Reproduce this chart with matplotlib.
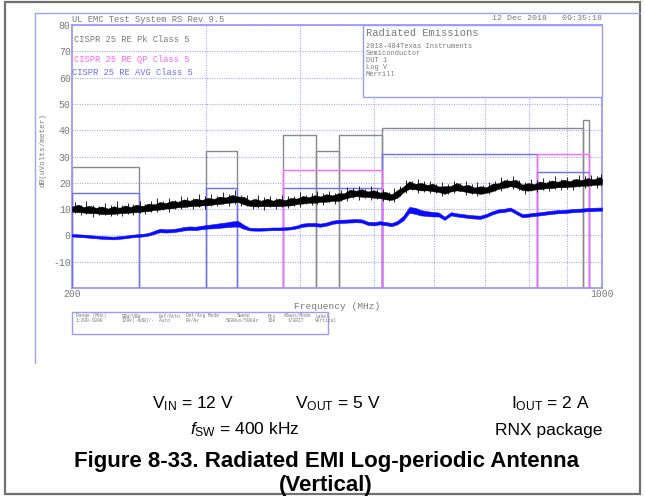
import matplotlib
matplotlib.use("Agg")
import matplotlib.pyplot as plt
from matplotlib.patches import Rectangle
from matplotlib.lines import Line2D

plt.rcParams["mathtext.fontset"] = "custom"
plt.rcParams["mathtext.rm"] = "Liberation Sans"
plt.rcParams["mathtext.it"] = "Liberation Sans:italic"
plt.rcParams["mathtext.bf"] = "Liberation Sans:bold"

# ---------------- data ----------------
freq_mhz = [200, 204, 207, 211, 215, 219, 223, 227, 231, 235, 239, 243, 248, 252, 257, 261,
            266, 271, 276, 281, 286, 291, 297, 302, 308, 313, 319, 325, 331, 337, 343, 349,
            355, 362, 368, 375, 382, 389, 396, 403, 410, 418, 425, 433, 441, 449, 457, 465,
            474, 482, 491, 500, 509, 518, 528, 537, 547, 557, 567, 577, 588, 598, 609, 620,
            632, 643, 655, 667, 679, 691, 704, 717, 730, 743, 757, 770, 785, 799, 814, 828,
            843, 859, 874, 890, 907, 923, 940, 957, 975, 993, 1000]

# peak detector trace: upper / lower edge of the noise band (dBuV/m)
peak_hi = [11.0, 11.7, 10.8, 11.3, 10.5, 11.0, 10.2, 11.1, 10.5, 11.4, 10.8, 11.7, 11.2, 12.1, 11.8, 12.7,
           12.3, 13.2, 12.8, 13.7, 13.2, 14.0, 13.5, 14.3, 13.9, 14.8, 14.4, 15.4, 14.8, 14.7, 13.3, 13.9,
           13.2, 14.0, 13.2, 14.0, 13.4, 14.3, 14.0, 15.0, 14.5, 15.3, 14.8, 15.7, 15.2, 16.0, 16.0, 17.4,
           17.0, 17.6, 16.7, 17.2, 16.3, 16.6, 15.6, 17.2, 18.5, 20.6, 19.6, 20.0, 19.2, 19.7, 18.6, 18.7,
           18.8, 20.0, 18.9, 19.2, 18.2, 18.7, 18.3, 19.7, 19.8, 21.0, 20.8, 21.2, 19.3, 19.9, 19.5, 20.5,
           20.0, 20.9, 20.4, 21.2, 20.6, 21.5, 21.0, 21.8, 21.3, 22.2, 21.5]
peak_lo = [9.0, 8.8, 8.7, 8.4, 8.4, 8.1, 8.1, 8.2, 8.4, 8.5, 8.7, 8.8, 9.1, 9.2, 9.7, 9.8,
           10.2, 10.3, 10.7, 10.8, 11.1, 11.1, 11.4, 11.4, 11.8, 11.9, 12.3, 12.5, 12.7, 11.8, 11.2, 11.0,
           11.1, 11.1, 11.1, 11.1, 11.3, 11.4, 11.9, 12.1, 12.4, 12.4, 12.7, 12.8, 13.1, 13.1, 13.9, 14.5,
           14.9, 14.7, 14.6, 14.3, 14.2, 13.7, 13.5, 14.3, 16.4, 17.7, 17.5, 17.1, 17.1, 16.8, 16.5, 15.8,
           16.7, 17.1, 16.8, 16.3, 16.1, 15.8, 16.2, 16.8, 17.7, 18.1, 18.7, 18.3, 17.2, 17.0, 17.4, 17.6,
           17.9, 18.0, 18.3, 18.3, 18.5, 18.6, 18.9, 18.9, 19.2, 19.3, 19.4]

# individual peak-detector spikes between the band samples
spike_mhz = [202, 205.5, 209, 213, 217, 221, 225, 229, 233, 237, 241, 245.5, 250, 254.5, 259, 263.5,
             268.5, 273.5, 278.5, 283.5, 288.5, 294, 299.5, 305, 310.5, 316, 322, 328, 334, 340,
             346, 352, 358.5, 365, 371.5, 378.5, 385.5, 392.5, 399.5, 406.5, 414, 421.5, 429, 437,
             445, 453, 461, 469.5, 478, 486.5, 495.5, 504.5, 513.5, 523, 532.5, 542, 552, 562, 572,
             582.5, 593, 603.5, 614.5, 626, 637.5, 649, 661, 673, 685, 697.5, 710.5, 723.5, 736.5,
             750, 763.5, 777.5, 792, 806.5, 821, 835.5, 851, 866.5, 882, 898.5, 915, 931.5, 948.5,
             966, 984, 996.5]
spike_top = [12.6, 11.7, 12.9, 11.7, 11.0, 12.2, 11.6, 13.0, 11.5, 12.5, 12.1, 13.2, 12.0, 13.1, 14.2, 13.2,
             14.2, 13.3, 14.9, 14.5, 14.2, 15.8, 14.8, 15.7, 14.8, 16.5, 15.9, 17.4, 15.5, 15.4,
             14.0, 15.2, 14.5, 15.1, 14.1, 15.5, 14.9, 14.8, 16.4, 15.3, 16.2, 17.0, 16.0, 17.0,
             16.1, 17.2, 18.5, 17.9, 18.7, 17.7, 18.6, 17.6, 17.7, 16.6, 18.0, 18.8, 21.0, 20.8, 21.5,
             20.5, 20.8, 19.7, 20.4, 19.7, 20.7, 19.9, 20.6, 19.5, 20.3, 19.2, 20.3, 20.6, 22.1,
             21.5, 22.5, 21.2, 20.3, 21.5, 20.9, 21.8, 21.1, 22.6, 21.6, 22.3, 21.6, 23.1, 22.5,
             23.0, 22.5, 23.5]
spike_bot = [8.4, 7.7, 8.3, 7.0, 7.6, 7.9, 7.2, 7.7, 7.2, 8.2, 7.9, 8.7, 8.0, 8.9, 8.8, 9.6,
             9.0, 10.0, 9.9, 10.7, 10.0, 10.7, 10.0, 11.2, 11.0, 11.8, 11.3, 12.1, 11.1, 11.1,
             10.1, 10.6, 9.8, 10.7, 10.2, 10.9, 10.3, 11.1, 10.8, 11.9, 11.5, 12.1, 11.5, 12.6,
             12.1, 12.9, 13.1, 14.3, 13.6, 14.2, 13.6, 14.0, 12.9, 13.0, 12.6, 14.9, 16.2, 17.2, 16.1,
             16.6, 16.0, 16.3, 14.9, 15.7, 16.0, 16.7, 15.5, 15.7, 14.8, 15.6, 15.6, 16.7, 16.7,
             18.0, 17.5, 17.3, 15.8, 16.8, 16.6, 17.3, 16.9, 17.8, 17.3, 17.8, 17.4, 18.4, 18.0,
             18.6, 18.2, 18.8]

# average detector trace: upper / lower edge (dBuV/m)
avg_hi = [0.5, 0.4, 0.3, 0.1, -0.1, -0.3, -0.4, -0.5, -0.3, -0.1, 0.2, 0.4, 0.6, 0.9, 1.8, 2.5,
          2.3, 2.4, 2.7, 3.2, 3.4, 3.3, 3.7, 4.0, 4.3, 4.6, 4.9, 5.3, 5.5, 4.0, 2.9, 2.8,
          2.8, 2.9, 3.0, 3.0, 3.1, 3.3, 3.8, 4.5, 4.7, 4.7, 4.5, 4.9, 5.6, 5.9, 6.0, 6.1,
          6.2, 6.1, 5.2, 5.0, 5.4, 5.1, 4.7, 5.5, 7.5, 10.8, 10.5, 9.6, 9.2, 8.9, 8.7, 7.1,
          8.8, 8.4, 8.1, 7.8, 7.6, 7.5, 8.2, 9.2, 9.9, 10.1, 10.6, 9.4, 8.1, 8.3, 8.6, 8.8,
          9.1, 9.4, 9.6, 9.7, 9.9, 10.1, 10.2, 10.4, 10.5, 10.6, 10.6]
avg_lo = [-0.4, -0.6, -0.7, -0.9, -1.1, -1.3, -1.4, -1.5, -1.3, -1.1, -0.8, -0.6, -0.4, -0.1, 0.6, 1.2,
          1.1, 1.2, 1.5, 1.9, 2.1, 2.0, 2.4, 2.6, 2.7, 2.9, 3.1, 3.3, 3.4, 2.5, 1.9, 1.8,
          1.8, 1.9, 2.0, 2.0, 2.1, 2.3, 2.7, 3.3, 3.5, 3.5, 3.3, 3.7, 4.4, 4.7, 4.8, 4.9,
          5.0, 4.9, 4.0, 3.8, 4.2, 3.9, 3.5, 4.2, 5.7, 8.6, 8.2, 7.6, 7.4, 7.2, 7.2, 5.9,
          7.6, 7.2, 6.9, 6.6, 6.4, 6.3, 7.0, 8.0, 8.7, 8.9, 9.4, 8.2, 6.9, 7.1, 7.4, 7.6,
          7.9, 8.2, 8.4, 8.5, 8.7, 8.9, 9.0, 9.2, 9.3, 9.4, 9.4]

# CISPR 25 class 5 limit bands: (start MHz, stop MHz, level dBuV/m)
limit_pk = [(200, 245, 26), (300, 330, 32), (380, 420, 38), (420, 450, 32), (450, 512, 38),
            (512, 945, 41), (945, 960, 44)]
limit_qp = [(380, 512, 25), (820, 960, 31)]
limit_avg = [(200, 245, 16), (300, 330, 18), (380, 512, 18), (512, 820, 31), (820, 960, 24)]

y_ticks = [-10, 0, 10, 20, 30, 40, 50, 60, 70, 80]
x_grid = [300, 400, 500, 600, 700, 800, 900]

# ---------------- figure ----------------
W, H = 645, 496
fig = plt.figure(figsize=(W / 100, H / 100), dpi=100)
fig.patch.set_facecolor("white")


def fx(px):
    return px / W


def fy(py):
    return 1 - py / H


LAV = "#9a9aff"
GRID = "#a8a8ff"
PK_C = "#8a8a8a"
QP_C = "#ff66ff"
AV_C = "#6f6fff"
TXT = "#7a7a7a"
MONO = "Liberation Mono"

ax = fig.add_axes([fx(72), fy(288), fx(602) - fx(72), fy(25) - fy(288)])
ax.set_xscale("log")
ax.set_xlim(200, 1000)
ax.set_ylim(-20, 80)

for y in y_ticks:
    ax.axhline(y, color=GRID, lw=0.8, ls=(0, (1, 1.2)), zorder=1)
for x in x_grid:
    ax.axvline(x, color=GRID, lw=0.8, ls=(0, (1, 1.2)), zorder=1)

ax.set_yticks(y_ticks)
ax.set_yticklabels([str(v) for v in y_ticks], family=MONO, fontsize=7, color=TXT)
ax.set_xticks([200, 1000])
ax.set_xticklabels(["200", "1000"], family=MONO, fontsize=7, color=TXT)
ax.minorticks_off()
ax.tick_params(length=0, pad=1)
for s in ax.spines.values():
    s.set_color(LAV)
    s.set_linewidth(1.3)


def draw_limits(bands, color, z):
    for f1, f2, lev in bands:
        ax.plot([f1, f1, f2, f2], [-20, lev, lev, -20], color=color, lw=1.0, zorder=z)


draw_limits(limit_pk, PK_C, 2)
draw_limits(limit_avg, AV_C, 3)
draw_limits(limit_qp, QP_C, 4)

ax.fill_between(freq_mhz, avg_lo, avg_hi, color="#0a0aff", lw=0.4, zorder=5)
ax.fill_between(freq_mhz, peak_lo, peak_hi, color="black", lw=0.3, zorder=6)
ax.vlines(spike_mhz, spike_bot, spike_top, color="black", lw=0.6, zorder=6)

# legend-like labels inside the plot
ax.text(0.004, 0.945, "CISPR 25 RE Pk Class 5", transform=ax.transAxes, family=MONO,
        fontsize=6.3, color=TXT, va="center")
ax.text(0.004, 0.87, "CISPR 25 RE QP Class 5", transform=ax.transAxes, family=MONO,
        fontsize=6.3, color=QP_C, va="center")
ax.text(0.0, 0.82, "CISPR 25 RE AVG Class 5", transform=ax.transAxes, family=MONO,
        fontsize=6.3, color=AV_C, va="center")

ax.set_xlabel("Frequency (MHz)", family=MONO, fontsize=6.8, color=TXT, labelpad=2)
fig.text(fx(43), fy(150), "dB(uVolts/meter)", family=MONO, fontsize=5.6, color=TXT,
         rotation=90, ha="center", va="center")

# header lines
fig.text(fx(72), fy(19), "UL EMC Test System RS Rev 9.5", family=MONO, fontsize=6.3,
         color=TXT, va="center")
fig.text(fx(602), fy(19), "12 Dec 2018   09:35:18", family=MONO, fontsize=6.0,
         color=TXT, va="center", ha="right")

# title block
fig.add_artist(Rectangle((fx(363), fy(97)), fx(602) - fx(363), fy(25) - fy(97),
                         transform=fig.transFigure, facecolor="white", edgecolor=LAV,
                         lw=1.0, zorder=5))
fig.text(fx(366), fy(33), "Radiated Emissions", family=MONO, fontsize=7.6, color=TXT,
         va="center", zorder=6)
info = ["2018-484Texas Instruments", "Semiconductor", "DUT 1", "Log V", "Merrill"]
for i, line in enumerate(info):
    fig.text(fx(366), fy(46 + 7.2 * i), line, family=MONO, fontsize=5.0, color=TXT,
             va="center", zorder=6)

# settings block under the plot
fig.add_artist(Rectangle((fx(72), fy(334)), fx(328) - fx(72), fy(312) - fy(334),
                         transform=fig.transFigure, facecolor="white", edgecolor=LAV,
                         lw=1.0, zorder=5))
hdr = [("Range (MHz)", 76), ("RBW/VBW", 122), ("Ref/Attn", 159), ("Det/Avg Mode", 186),
       ("Sweep", 237), ("Pts", 268), ("#Swps/Mode", 284), ("Label", 315)]
vals = [("1:200-1000", 76), ("120k(-6dB)/-", 122), ("Auto", 159), ("Pk/Av", 186),
        ("5000us/50kHz", 226), ("16k", 268), ("1/GRIT", 288), ("Vertical", 315)]
for t, x in hdr:
    fig.text(fx(x), fy(316), t, family=MONO, fontsize=3.3, color=TXT, va="center", zorder=6)
for t, x in vals:
    fig.text(fx(x), fy(320.5), t, family=MONO, fontsize=3.3, color=TXT, va="center", zorder=6)

# screenshot frame lines
fig.add_artist(Line2D([fx(35), fx(640)], [fy(13), fy(13)], color="#a0a0ff", lw=1.0))
fig.add_artist(Line2D([fx(35), fx(35)], [fy(13), fy(363)], color="#a0a0ff", lw=1.0))

# outer page frame
fig.add_artist(Rectangle((fx(4.5), fy(494)), fx(640) - fx(4.5), fy(1.5) - fy(494),
                         transform=fig.transFigure, facecolor="none", edgecolor="#707070",
                         lw=1.6))

# operating conditions and caption
SANS = "Liberation Sans"
fig.text(fx(193), fy(404), r"V$_\mathregular{IN}$ = 12 V", family=SANS, fontsize=12.5,
         ha="center", va="center")
fig.text(fx(338), fy(404), r"V$_\mathregular{OUT}$ = 5 V", family=SANS, fontsize=12.5,
         ha="center", va="center")
fig.text(fx(550), fy(404), r"I$_\mathregular{OUT}$ = 2 A", family=SANS, fontsize=12.5,
         ha="center", va="center")
fig.text(fx(245), fy(430), r"$\mathit{f}_\mathregular{SW}$ = 400 kHz", family=SANS,
         fontsize=12.5, ha="center", va="center")
fig.text(fx(549), fy(430), "RNX package", family=SANS, fontsize=12.5, ha="center", va="center")
fig.text(fx(326), fy(466.5), "Figure 8-33. Radiated EMI Log-periodic Antenna", family=SANS,
         fontsize=16, weight="bold", ha="center", va="baseline")
fig.text(fx(326), fy(491.5), "(Vertical)", family=SANS, fontsize=16, weight="bold",
         ha="center", va="baseline")

fig.savefig("out.png", dpi=100)
